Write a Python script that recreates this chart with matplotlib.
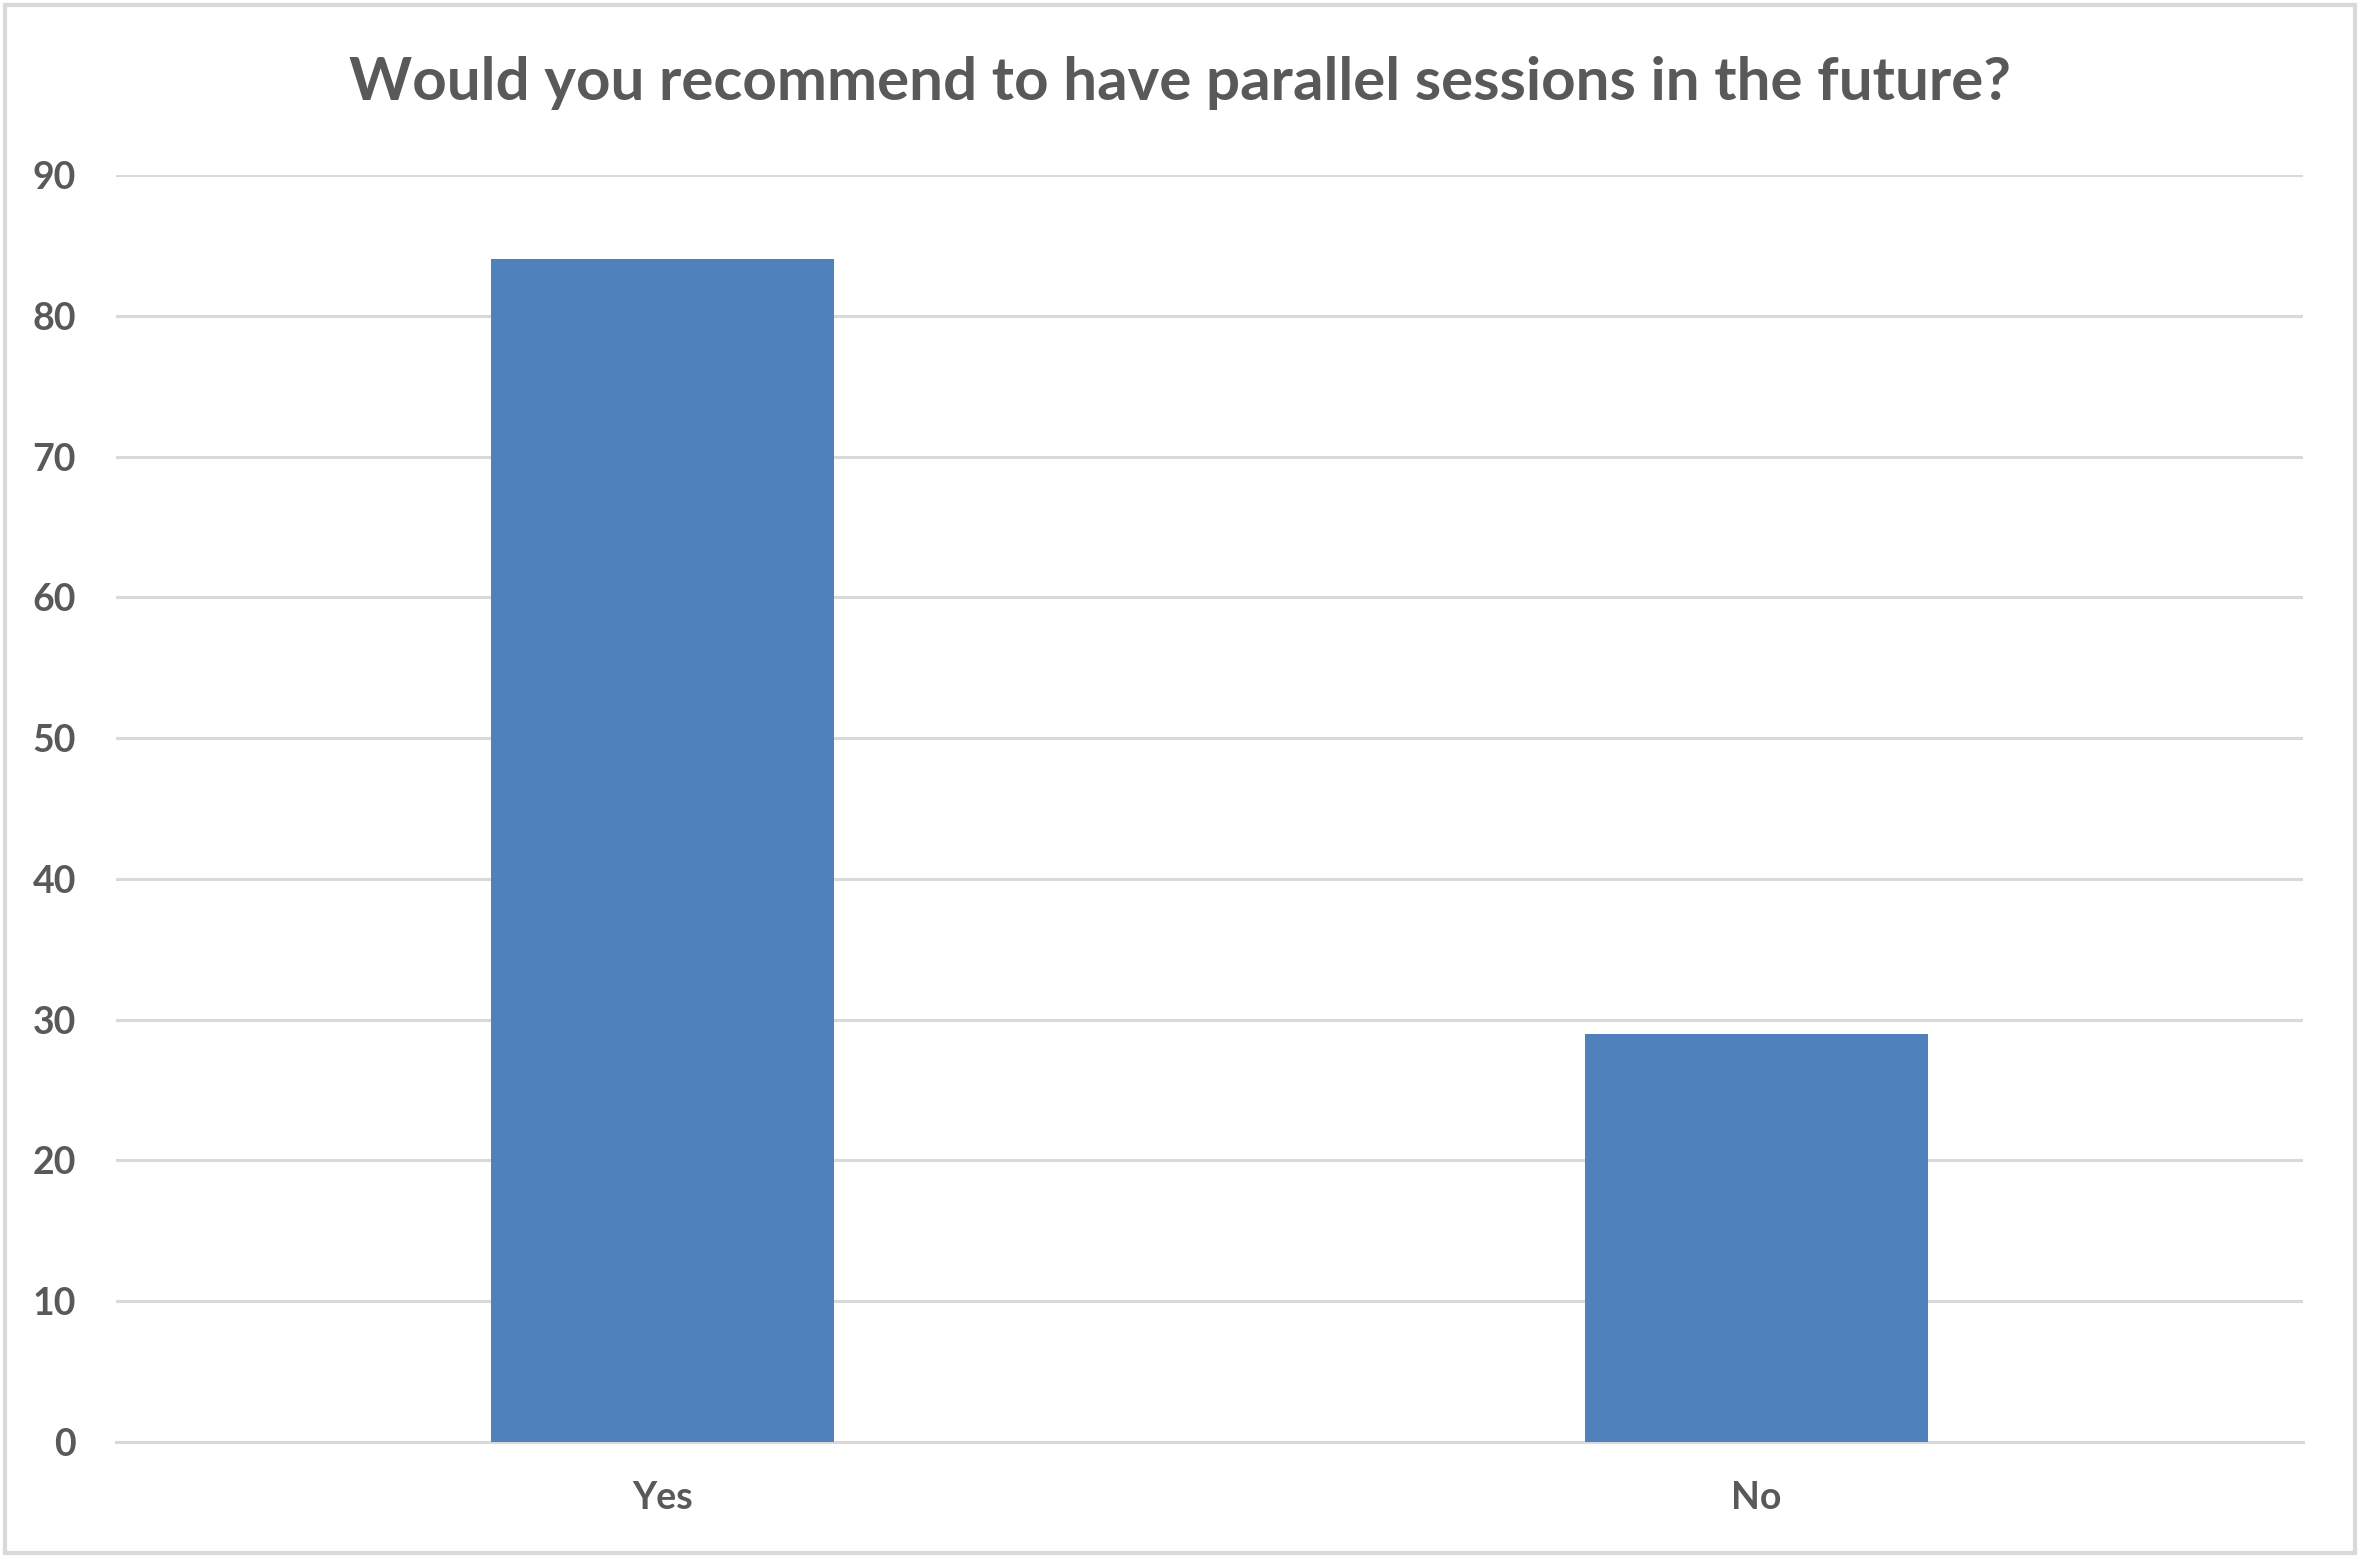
import matplotlib.pyplot as plt
from matplotlib.patches import Rectangle

categories = ["Yes", "No"]
counts = [84, 29]
yticks = [0, 10, 20, 30, 40, 50, 60, 70, 80, 90]

text_col = "#595959"
grid_col = "#D9D9D9"
bar_col = "#4F81BD"

plt.rcParams['font.family'] = ['Lato', 'DejaVu Sans']

fig = plt.figure(figsize=(23.6, 15.58), dpi=100)
ax = fig.add_axes([0.0492, 0.0745, 0.9266, 0.8132])

x = range(len(categories))
ax.bar(x, counts, width=0.314, color=bar_col, zorder=3)

ax.set_xlim(-0.5, 1.5)
ax.set_ylim(0, 90)
ax.set_yticks(yticks)
ax.set_xticks(list(x))
ax.set_xticklabels(categories)

ax.grid(axis='y', color=grid_col, linewidth=2.2, zorder=0)
for s in ['top', 'right', 'left']:
    ax.spines[s].set_visible(False)
ax.spines['bottom'].set_color(grid_col)
ax.spines['bottom'].set_linewidth(2.2)
ax.tick_params(axis='both', length=0, labelsize=27, labelcolor=text_col)
ax.tick_params(axis='y', pad=29)
ax.tick_params(axis='x', pad=28)
for lbl in ax.get_xticklabels() + ax.get_yticklabels():
    lbl.set_fontweight('bold')

fig.text(0.5, 0.947, "Would you recommend to have parallel sessions in the future?",
         ha='center', va='center', fontsize=43.3, fontweight='bold', color=text_col)

# outer chart border
fig.patches.append(Rectangle((0.002, 0.003), 0.996, 0.994, transform=fig.transFigure,
                             fill=False, edgecolor=grid_col, linewidth=3))

fig.savefig("out.png", dpi=100)
